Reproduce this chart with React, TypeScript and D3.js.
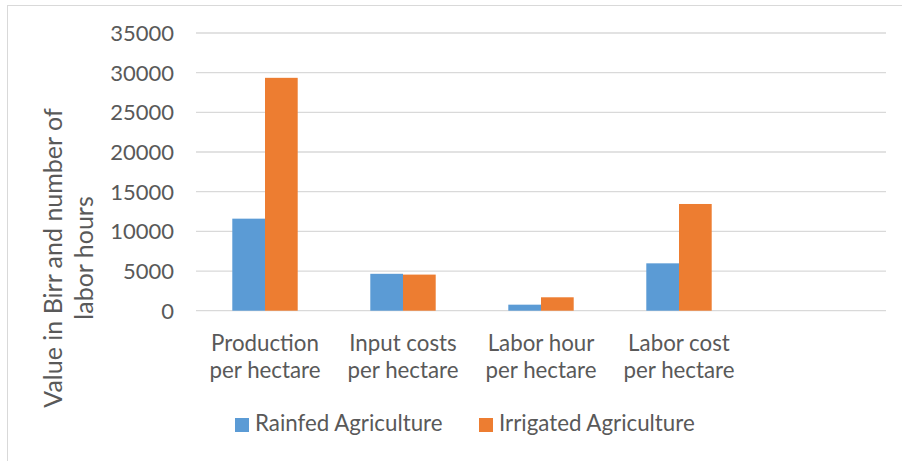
import React from "react";
import * as d3 from "d3";

const categories: string[][] = [
  ["Production", "per hectare"],
  ["Input costs", "per hectare"],
  ["Labor hour", "per hectare"],
  ["Labor cost", "per hectare"],
  [],
];
const seriesNames = ["Rainfed Agriculture", "Irrigated Agriculture"];
const rainfed: (number | null)[] = [11600, 4650, 760, 5970, null];
const irrigated: (number | null)[] = [29350, 4550, 1690, 13450, null];
const yTicks = [0, 5000, 10000, 15000, 20000, 25000, 30000, 35000];
const yTitle = ["Value in Birr and number of", "labor hours"];
const colors = ["#5B9BD5", "#ED7D31"];

const W = 902;
const H = 461;
const FONT = "Lato, 'Open Sans', sans-serif";
const TEXT = "#595959";
const GRID = "#D9D9D9";

export default function App() {
  const x = d3
    .scaleBand<number>()
    .domain(categories.map((_, i) => i))
    .range([196, 886])
    .padding(0);
  const y = d3.scaleLinear().domain([0, 35000]).range([310.7, 33]);
  const bw = x.bandwidth();
  const groupW = bw / 2.11;
  const xs = d3
    .scaleBand<number>()
    .domain([0, 1])
    .range([(bw - groupW) / 2, (bw + groupW) / 2])
    .padding(0);
  const series = [rainfed, irrigated];

  return (
    <svg
      width={W}
      height={H}
      style={{ position: "absolute", left: 0, top: 0, background: "#fff" }}
      fontFamily={FONT}
    >
      <rect x={7.5} y={5.5} width={W + 10} height={H + 10} fill="#fff" stroke={GRID} strokeWidth={1} />
      {yTicks.map((t) => (
        <g key={t}>
          <line x1={196} x2={886} y1={y(t)} y2={y(t)} stroke={GRID} strokeWidth={1.3} />
          <text x={174} y={y(t)} dy="0.36em" textAnchor="end" fontSize={22} fill={TEXT}>
            {t}
          </text>
        </g>
      ))}
      {series.map((vals, s) =>
        vals.map((v, i) =>
          v == null ? null : (
            <rect
              key={`${s}-${i}`}
              x={(x(i) as number) + (xs(s) as number)}
              y={y(v)}
              width={xs.bandwidth()}
              height={y(0) - y(v)}
              fill={colors[s]}
            />
          )
        )
      )}
      {categories.map((lines, i) => (
        <text key={i} textAnchor="middle" fontSize={22.3} fill={TEXT}>
          {lines.map((ln, j) => (
            <tspan key={j} x={(x(i) as number) + bw / 2} y={350.7 + j * 27.5}>
              {ln}
            </tspan>
          ))}
        </text>
      ))}
      {yTitle.map((ln, j) => (
        <text
          key={ln}
          transform={`translate(${62 + j * 31},258) rotate(-90)`}
          textAnchor="middle"
          fontSize={25}
          fill={TEXT}
        >
          {ln}
        </text>
      ))}
      {seriesNames.map((name, s) => {
        const lx = s === 0 ? 235 : 479;
        return (
          <g key={name}>
            <rect x={lx} y={418} width={14} height={14} fill={colors[s]} />
            <text x={lx + 20} y={430.7} fontSize={22.3} fill={TEXT}>
              {name}
            </text>
          </g>
        );
      })}
    </svg>
  );
}
